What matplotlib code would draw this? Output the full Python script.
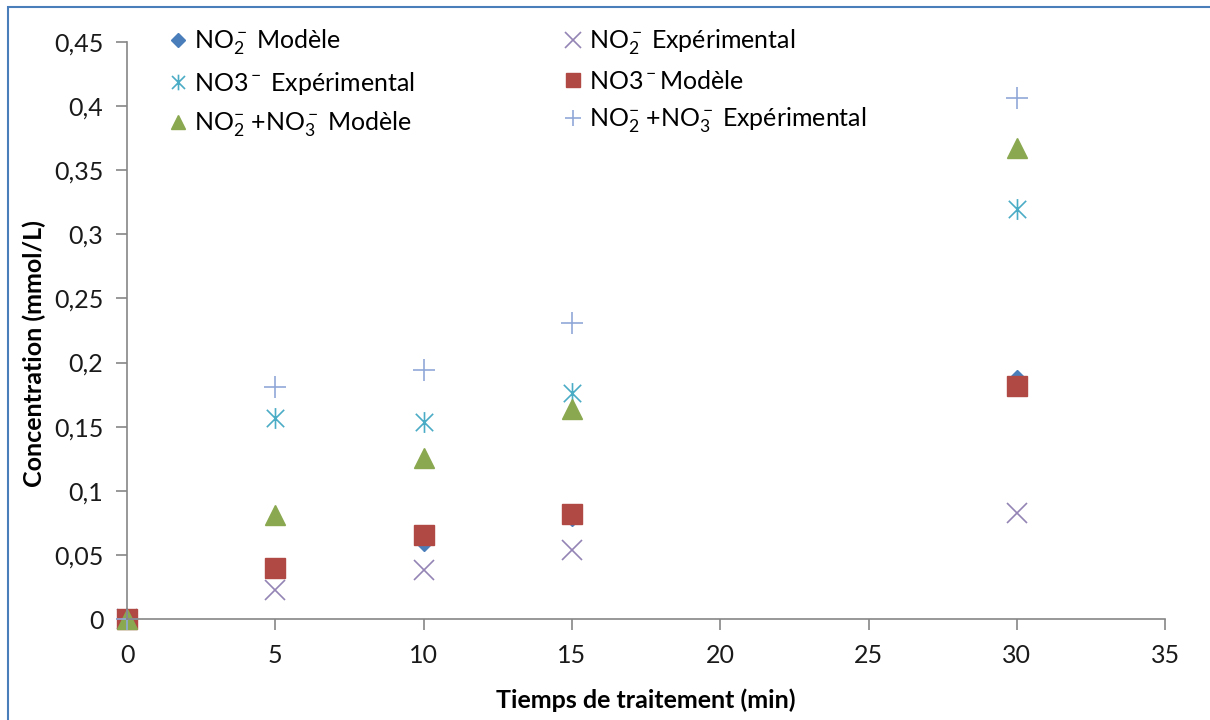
import matplotlib
matplotlib.use("Agg")
import matplotlib.pyplot as plt
from matplotlib.path import Path
from matplotlib.patches import Rectangle
from matplotlib.ticker import FuncFormatter

# Temps de traitement (min)
temps = [0, 5, 10, 15, 30]

# Concentrations (mmol/L)
no2_modele = [0, 0.040, 0.060, 0.080, 0.187]
no2_exp = [0, 0.023, 0.038, 0.054, 0.083]
no3_exp = [0, 0.157, 0.154, 0.176, 0.320]
no3_modele = [0, 0.040, 0.066, 0.082, 0.182]
somme_modele = [0, 0.081, 0.126, 0.164, 0.367]
somme_exp = [0, 0.181, 0.194, 0.231, 0.406]

x_ticks = [0, 5, 10, 15, 20, 25, 30, 35]
y_ticks = [0, 0.05, 0.1, 0.15, 0.2, 0.25, 0.3, 0.35, 0.4, 0.45]

plt.rcParams['mathtext.fontset'] = 'custom'
plt.rcParams['mathtext.rm'] = 'Lato'
plt.rcParams['mathtext.it'] = 'Lato:italic'

# marqueur étoile façon Excel (x + trait vertical)
asterisk = Path([(-1, -1), (1, 1), (-1, 1), (1, -1), (0, -1.2), (0, 1.2)],
                [Path.MOVETO, Path.LINETO, Path.MOVETO, Path.LINETO,
                 Path.MOVETO, Path.LINETO])

fig = plt.figure(figsize=(12.1, 7.2), dpi=100)
ax = fig.add_axes([0.105, 0.140, 0.858, 0.802])

h1, = ax.plot(temps, no2_modele, 'D', color='#4a7ebb', ms=9, ls='none',
              label='NO$_2^-$ Modèle')
h4, = ax.plot(temps, no2_exp, 'x', color='#9484b5', ms=15, mew=1.2, ls='none',
              label='NO$_2^-$ Expérimental')
h2, = ax.plot(temps, no3_exp, marker=asterisk, color='#4bacc6', ms=15, mew=1.2,
              mfc='none', ls='none', label='NO3$^-$ Expérimental')
h5, = ax.plot(temps, no3_modele, 's', color='#b04843', ms=14, ls='none',
              label='NO3$^-$Modèle')
h3, = ax.plot(temps, somme_modele, '^', color='#8aa850', ms=14, ls='none',
              label='NO$_2^{-}$ +NO$_3^-$ Modèle')
h6, = ax.plot(temps, somme_exp, '+', color='#90a8d8', ms=16, mew=1.2, ls='none',
              label='NO$_2^{-}$ +NO$_3^-$ Expérimental')

ax.set_xlim(0, 35)
ax.set_ylim(0, 0.45)
ax.set_xticks(x_ticks)
ax.set_yticks(y_ticks)
ax.yaxis.set_major_formatter(FuncFormatter(lambda v, p: ('%g' % v).replace('.', ',')))
for ln in ax.lines:
    ln.set_clip_on(False)

for s in ['top', 'right']:
    ax.spines[s].set_visible(False)
for s in ['left', 'bottom']:
    ax.spines[s].set_color('#868686')
    ax.spines[s].set_linewidth(1.2)
ax.tick_params(direction='out', length=8, width=1.2, color='#868686',
               labelsize=18, labelcolor='#1a1a1a')
ax.tick_params(axis='y', pad=9)
ax.tick_params(axis='x', pad=10)
for lab in ax.get_xticklabels() + ax.get_yticklabels():
    lab.set_fontfamily('Lato')

ax.set_xlabel('Tiemps de traitement (min)', fontfamily='Lato', fontweight='bold',
              fontsize=18)
ax.xaxis.set_label_coords(0.5, -0.12)
ax.set_ylabel('Concentration (mmol/L)', fontfamily='Lato', fontweight='bold',
              fontsize=18)
ax.yaxis.set_label_coords(-0.078, 0.46)

leg = ax.legend(handles=[h1, h2, h3, h4, h5, h6], ncol=2, loc='upper left',
                bbox_to_anchor=(0.018, 1.063), frameon=False,
                prop={'family': 'Lato', 'size': 18}, handlelength=0.8,
                handletextpad=0.25, columnspacing=5.9, labelspacing=0.5,
                markerscale=0.75)

fig.patches.append(Rectangle((0.007, -0.05), 1.1, 1.04, transform=fig.transFigure,
                             fill=False, edgecolor='#4a7ebb', linewidth=1.5))

fig.savefig('out.png', dpi=100)
